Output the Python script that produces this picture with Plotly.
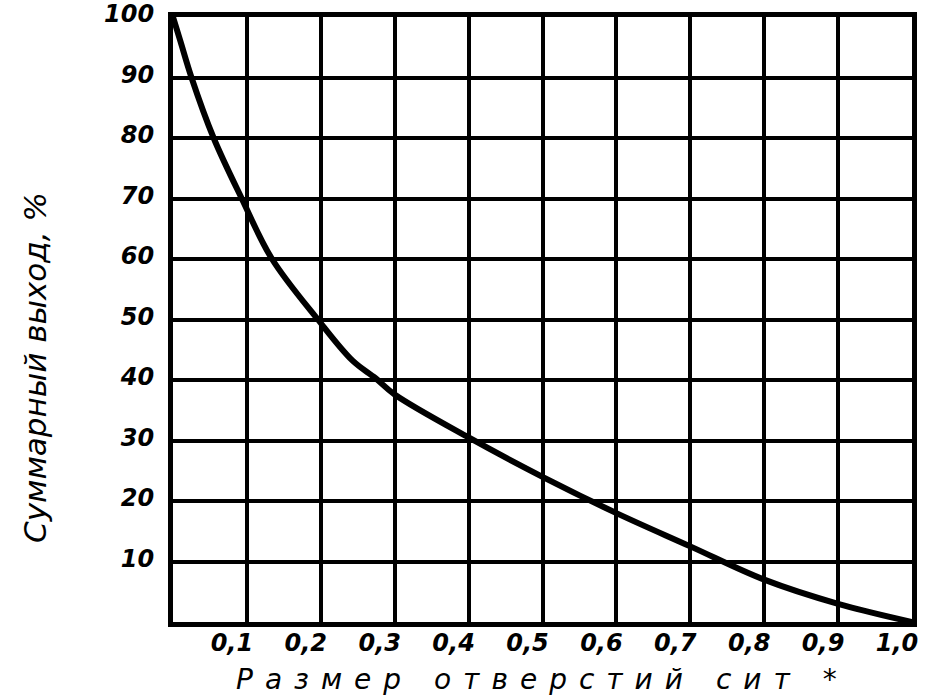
import plotly.graph_objects as go

# Data
sieve_size = [0.0, 0.01, 0.025, 0.055, 0.093, 0.134, 0.196, 0.243, 0.274, 0.3,
              0.4, 0.5, 0.6, 0.7, 0.8, 0.9, 1.0]
total_yield = [100, 96, 90, 80, 70, 60, 50, 43.2, 40.3, 37.6,
               30.5, 24, 18, 12.5, 7, 3, 0]

x_ticks = [0.1, 0.2, 0.3, 0.4, 0.5, 0.6, 0.7, 0.8, 0.9, 1.0]
x_labels = ["0,1", "0,2", "0,3", "0,4", "0,5", "0,6", "0,7", "0,8", "0,9", "1,0"]
y_ticks = [10, 20, 30, 40, 50, 60, 70, 80, 90, 100]
y_labels = ["10", "20", "30", "40", "50", "60", "70", "80", "90", "100"]

x_title = "Размер отверстий сит *"
y_title = "Суммарный выход, %"

tick_font = dict(family="DejaVu Sans", size=24, color="black",
                 style="italic", weight="bold")

W, H = 926, 697
L, R, T, B = 173, 14, 17, 75
pw, ph = W - L - R, H - T - B

fig = go.Figure()
fig.add_trace(go.Scatter(
    x=sieve_size, y=total_yield, mode="lines",
    line=dict(color="black", width=6, shape="spline", smoothing=1.0),
    showlegend=False, hoverinfo="skip",
))

fig.update_layout(
    width=W, height=H,
    margin=dict(l=L, r=R, t=T, b=B),
    paper_bgcolor="white", plot_bgcolor="white",
)
fig.update_xaxes(
    range=[0, 1], tickvals=x_ticks, ticktext=x_labels,
    showgrid=True, gridcolor="black", gridwidth=4,
    showline=True, linecolor="black", linewidth=5, mirror=True,
    zeroline=False, ticks="", tickfont=tick_font, automargin=False,
    ticklabelshift=-15, ticklabelstandoff=-5, ticklabeloverflow="allow",
)
fig.update_yaxes(
    range=[0, 100], tickvals=y_ticks, ticktext=y_labels,
    showgrid=True, gridcolor="black", gridwidth=4,
    showline=True, linecolor="black", linewidth=5, mirror=True,
    zeroline=False, ticks="", tickfont=tick_font, automargin=False,
    ticklabelshift=-3, ticklabelstandoff=9, ticklabeloverflow="allow",
)
fig.add_annotation(
    text='<span style="letter-spacing:12px">' + x_title + '</span>',
    xref="paper", yref="paper",
    x=(542 - L) / pw, y=-(679 - (H - B)) / ph,
    xanchor="center", yanchor="middle", showarrow=False,
    font=dict(family="DejaVu Sans", size=28, color="black", style="italic"),
)
fig.add_annotation(
    text=y_title, xref="paper", yref="paper",
    x=-(L - 35) / pw, y=((H - B) - 368) / ph,
    xanchor="center", yanchor="middle", showarrow=False, textangle=-90,
    font=dict(family="DejaVu Sans", size=31, color="black", style="italic"),
)

fig.write_html(
    "out.html",
    config={"displayModeBar": False},
    post_script="document.body.style.margin='0';document.body.style.overflow='hidden';",
)
